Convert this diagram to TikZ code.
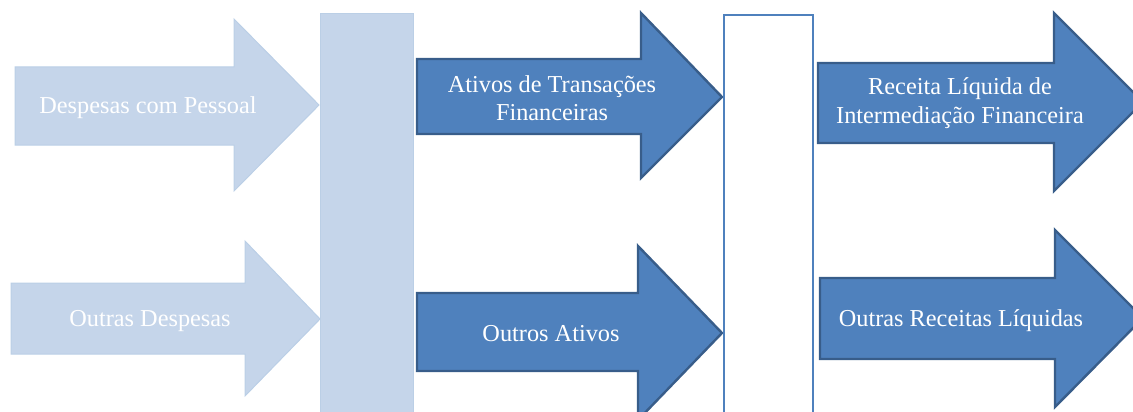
\documentclass[tikz,border=0pt]{standalone}
\usepackage{fontspec}
\setmainfont{Liberation Serif}
\definecolor{lightfill}{HTML}{C5D5EA}
\definecolor{lightedge}{HTML}{BBCFE6}
\definecolor{darkfill}{HTML}{4F81BD}
\definecolor{darkedge}{HTML}{385D8A}
\begin{document}
\begin{tikzpicture}[x=1pt,y=-1pt,
  lightshape/.style={fill=lightfill,draw=lightedge,line width=1pt,line join=miter},
  darkshape/.style={fill=darkfill,draw=darkedge,line width=2.4pt,line join=miter},
  openbar/.style={fill=white,draw=darkfill,line width=2pt},
  lbl/.style={text=white,align=center,inner sep=0pt,font=\fontsize{24.3}{28.5}\selectfont}]
\useasboundingbox (0,0) rectangle (1133,412);
\clip (0,0) rectangle (1133,412);
% light input arrows
\draw[lightshape] (15,67)--(234,67)--(234,19)--(319,105)--(234,191)--(234,145)--(15,145)--cycle;
\draw[lightshape] (11,283)--(245,283)--(245,241)--(320,319)--(245,396)--(245,354)--(11,354)--cycle;
% light bar
\draw[fill=lightfill,draw=lightedge,line width=1pt] (320,14) rectangle (413,430);
% middle dark arrows
\draw[darkshape] (417,59)--(641,59)--(641,13)--(722,97)--(641,178)--(641,134)--(417,134)--cycle;
\draw[darkshape] (417,293)--(638,293)--(638,246)--(722,333)--(638,420)--(638,371)--(417,371)--cycle;
% open bar
\draw[openbar] (724,15) rectangle (813,430);
% right dark arrows
\draw[darkshape] (818,63)--(1054,63)--(1054,13)--(1143,102)--(1054,191)--(1054,143)--(818,143)--cycle;
\draw[darkshape] (820,278)--(1055,278)--(1055,230)--(1143,318)--(1055,407)--(1055,359)--(820,359)--cycle;
% labels
\node[lbl] (dp) at (148,108) {Despesas com Pessoal};
\node[lbl] (od) at (150,321) {Outras Despesas};
\node[lbl] (atf) at (552,98) {Ativos de Transações\\Financeiras};
\node[lbl] (oa) at (551,334) {Outros Ativos};
\node[lbl] (rli) at (960,103) {Receita Líquida de\\Intermediação Financeira};
\node[lbl] (orl) at (961,321) {Outras Receitas Líquidas};
\end{tikzpicture}
\end{document}
